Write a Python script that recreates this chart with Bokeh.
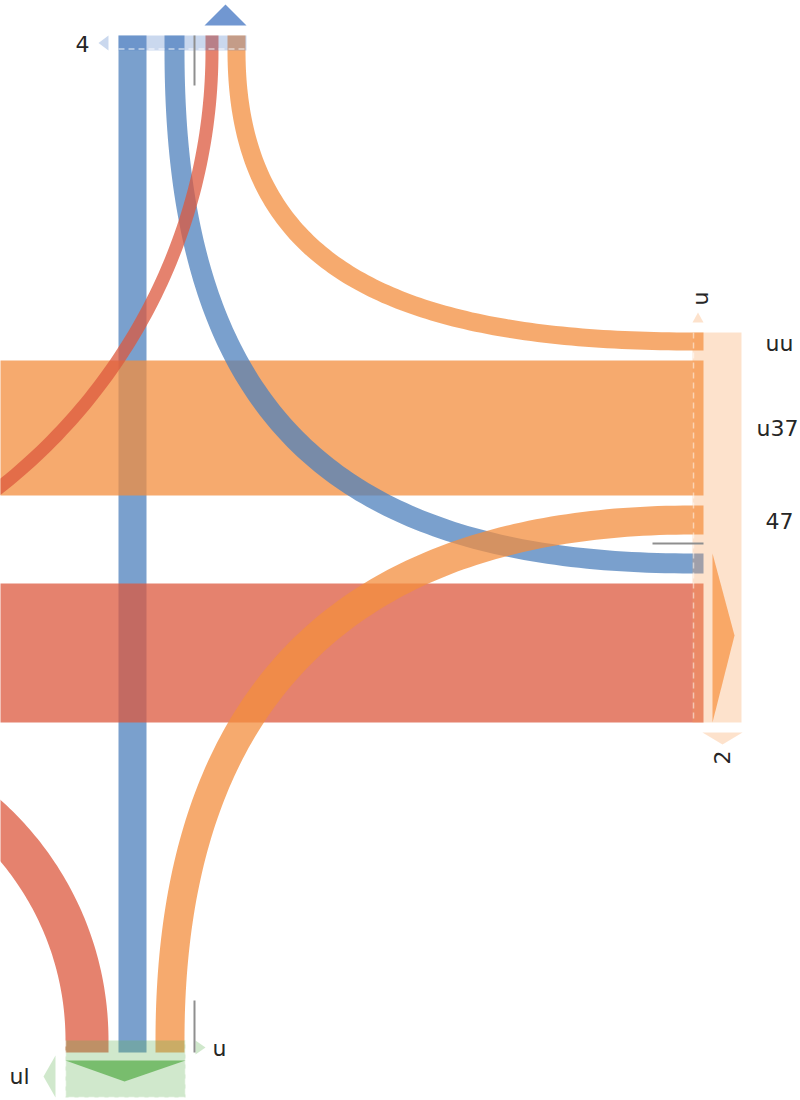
import numpy as np
from bokeh.plotting import figure
from bokeh.models import Range1d
from bokeh.embed import file_html
from bokeh.resources import INLINE
from bokeh.core.properties import value

# ---------------- data ----------------
flow_names = ["blue_through", "blue_to_right", "red_to_left", "orange_to_right",
              "orange_band", "orange_from_bottom", "red_band", "red_bottom_left"]
flow_values = [28, 20, 13, 18, 135, 29, 139, 43]
flow_series = ["blue", "blue", "red", "orange", "orange", "orange", "red", "red"]

top_order = ["blue_through", "blue_to_right", "red_to_left", "orange_to_right"]
right_order = ["orange_to_right", "orange_band", "orange_from_bottom", "blue_to_right", "red_band"]
bottom_order = ["red_bottom_left", "blue_through", "orange_from_bottom"]

top_labels = ["4"]
right_labels = ["uu", "u37", "47"]
right_axis_labels = ["u", "2"]
bottom_labels = ["u", "ul"]

# ---------------- styles / layout ----------------
series_color = {"blue": "#4e80bc", "orange": "#f38e3e", "red": "#dc583e"}
node_color = {"top": "#4e7dc6", "right": "#f89e55", "bottom": "#62b255"}
FLOW_ALPHA = 0.75
FONT = value("DejaVu Sans")

W, H = 800, 1100
p = figure(width=W, height=H, x_range=Range1d(0, W), y_range=Range1d(H, 0),
           output_backend="svg", toolbar_location=None, min_border=0,
           x_axis_type=None, y_axis_type=None)
p.grid.visible = False
p.outline_line_color = None
p.background_fill_color = "white"

val = dict(zip(flow_names, flow_values))
ser = dict(zip(flow_names, flow_series))

# node layout
TOP_Y0, TOP_Y1, TOP_X = 35, 50, 118
top_gaps = [0, 18, 21, 9]
RIGHT_X0, RIGHT_X1, RIGHT_XE, RIGHT_Y = 692, 741, 703, 332
right_gaps = [0, 10, 10, 19, 10]
BOT_Y0, BOT_Y1, BOT_YE, BOT_X = 1040, 1097, 1052, 65
bot_gaps = [0, 10, 9]


def stack(order, start, gaps):
    pos, cur = {}, start
    for name, g in zip(order, gaps):
        cur += g
        pos[name] = (cur, cur + val[name])
        cur += val[name]
    return pos, cur


top_pos, top_end = stack(top_order, TOP_X, top_gaps)
right_pos, right_end = stack(right_order, RIGHT_Y, right_gaps)
bot_pos, bot_end = stack(bottom_order, BOT_X, bot_gaps)


def edge(p0, d0, p3, d3, k, n=120):
    p0 = np.array(p0, float); p3 = np.array(p3, float)
    d0 = np.array(d0, float); d3 = np.array(d3, float)
    delta = p3 - p0
    L0 = abs(delta @ d0); L3 = abs(delta @ d3)
    p1 = p0 + d0 * k * L0
    p2 = p3 - d3 * k * L3
    t = np.linspace(0, 1, n)[:, None]
    pts = (1 - t) ** 3 * p0 + 3 * (1 - t) ** 2 * t * p1 + 3 * (1 - t) * t ** 2 * p2 + t ** 3 * p3
    return list(pts[:, 0]), list(pts[:, 1])


shapes = {}
# straight vertical
a, b = top_pos["blue_through"]
shapes["blue_through"] = ([a, b, b, a], [TOP_Y0, TOP_Y0, BOT_YE, BOT_YE])
# top -> right curves
for nm in ["blue_to_right", "orange_to_right"]:
    a, b = top_pos[nm]
    y0, y1 = right_pos[nm]
    ox, oy = edge((a, TOP_Y1), (0, 1), (RIGHT_X0, y1), (1, 0), 0.7)
    ix, iy = edge((b, TOP_Y1), (0, 1), (RIGHT_X0, y0), (1, 0), 0.7)
    xs = [a] + ox + [RIGHT_XE, RIGHT_XE] + ix[::-1] + [b]
    ys = [TOP_Y0] + oy + [y1, y0] + iy[::-1] + [TOP_Y0]
    shapes[nm] = (xs, ys)
# top -> left (off-frame) arc
LX = -344
a, b = top_pos["red_to_left"]
ix, iy = edge((a, TOP_Y1), (0, 1), (LX, TOP_Y1 + (a - LX)), (-1, 0), 0.5523)
ox, oy = edge((b, TOP_Y1), (0, 1), (LX, TOP_Y1 + (b - LX)), (-1, 0), 0.5523)
shapes["red_to_left"] = ([a] + ix + ox[::-1] + [b], [TOP_Y0] + iy + oy[::-1] + [TOP_Y0])
# horizontal bands
for nm in ["orange_band", "red_band"]:
    y0, y1 = right_pos[nm]
    shapes[nm] = ([-400, RIGHT_XE, RIGHT_XE, -400], [y0, y0, y1, y1])
# bottom -> right
a, b = bot_pos["orange_from_bottom"]
y0, y1 = right_pos["orange_from_bottom"]
ox, oy = edge((a, BOT_Y0), (0, -1), (RIGHT_X0, y0), (1, 0), 0.66)
ix, iy = edge((b, BOT_Y0), (0, -1), (RIGHT_X0, y1), (1, 0), 0.66)
shapes["orange_from_bottom"] = ([a] + ox + [RIGHT_XE, RIGHT_XE] + ix[::-1] + [b],
                                [BOT_YE] + oy + [y0, y1] + iy[::-1] + [BOT_YE])
# bottom -> left (off-frame) arc
LX2 = -214
a, b = bot_pos["red_bottom_left"]
ix, iy = edge((a, BOT_Y0), (0, -1), (LX2, BOT_Y0 - (a - LX2)), (-1, 0), 0.5523)
ox, oy = edge((b, BOT_Y0), (0, -1), (LX2, BOT_Y0 - (b - LX2)), (-1, 0), 0.5523)
shapes["red_bottom_left"] = ([a] + ix + ox[::-1] + [b], [BOT_YE] + iy + oy[::-1] + [BOT_YE])

draw_order = ["blue_through", "orange_band", "blue_to_right", "red_to_left", "red_band",
              "orange_from_bottom", "orange_to_right", "red_bottom_left"]
for nm in draw_order:
    xs, ys = shapes[nm]
    p.patch(xs, ys, fill_color=series_color[ser[nm]], fill_alpha=FLOW_ALPHA, line_color=None)

# node bars (translucent, over flows)
p.quad(left=[TOP_X], right=[top_end + 1], top=[TOP_Y0], bottom=[TOP_Y1],
       fill_color=node_color["top"], fill_alpha=0.3, line_color=None)
p.quad(left=[RIGHT_X0], right=[RIGHT_X1], top=[RIGHT_Y], bottom=[right_end],
       fill_color=node_color["right"], fill_alpha=0.3, line_color=None)
p.quad(left=[BOT_X], right=[bot_end + 1], top=[BOT_Y0], bottom=[BOT_Y1],
       fill_color=node_color["bottom"], fill_alpha=0.3, line_color=None)

# dashed node seams
p.line([TOP_X, top_end + 1], [TOP_Y1 - 1.5, TOP_Y1 - 1.5], line_color="white", line_alpha=0.6,
       line_width=1.5, line_dash="6 4")
p.line([RIGHT_X0 + 1, RIGHT_X0 + 1], [RIGHT_Y, right_end], line_color="white", line_alpha=0.5,
       line_width=1.5, line_dash="6 4")
p.line([BOT_X, BOT_X, bot_end + 1, bot_end + 1], [BOT_Y0, BOT_Y1, BOT_Y1, BOT_Y0],
       line_color="white", line_alpha=0.6, line_width=1.5, line_dash="6 4")

# markers
tri = [
    # (xs, ys, node, alpha)
    ([204, 225, 246], [25, 4, 25], "top", 0.8),
    ([108, 98, 108], [35, 42.5, 50], "top", 0.3),
    ([692, 697.5, 703], [322, 312, 322], "right", 0.3),
    ([712, 734, 712], [553, 635, 722], "right", 0.85),
    ([702, 742, 722], [732, 732, 744], "right", 0.3),
    ([65, 185, 124], [1060, 1060, 1081], "bottom", 0.8),
    ([55, 43, 55], [1055, 1076, 1097], "bottom", 0.3),
    ([195, 205, 195], [1040, 1047, 1054], "bottom", 0.3),
]
for xs, ys, nd, al in tri:
    p.patch(xs, ys, fill_color=node_color[nd], fill_alpha=al, line_color=None)

# gray ticks
p.segment(x0=[194, 652, 194], y0=[35, 543, 1000], x1=[194, 703, 194], y1=[85, 543, 1052],
          line_color="#8f8f8f", line_width=2)

# labels
TC = "#262626"
FS = "22px"
p.text(x=[82], y=[43], text=top_labels, text_font=FONT, text_font_size=FS,
       text_align="center", text_baseline="middle", text_color=TC)
p.text(x=[779, 756, 779], y=[343, 428, 520], text=right_labels, text_font=FONT,
       text_font_size=FS, text_align=["center", "left", "center"], text_baseline="middle",
       text_color=TC)
p.text(x=[700, 721], y=[298, 757], text=right_axis_labels, angle=np.pi / 2, text_font=FONT,
       text_font_size=FS, text_align="center", text_baseline="middle", text_color=TC)
p.text(x=[219, 19], y=[1048, 1076], text=bottom_labels, text_font=FONT, text_font_size=FS,
       text_align="center", text_baseline="middle", text_color=TC)

open("out.html", "w").write(file_html(p, INLINE))
